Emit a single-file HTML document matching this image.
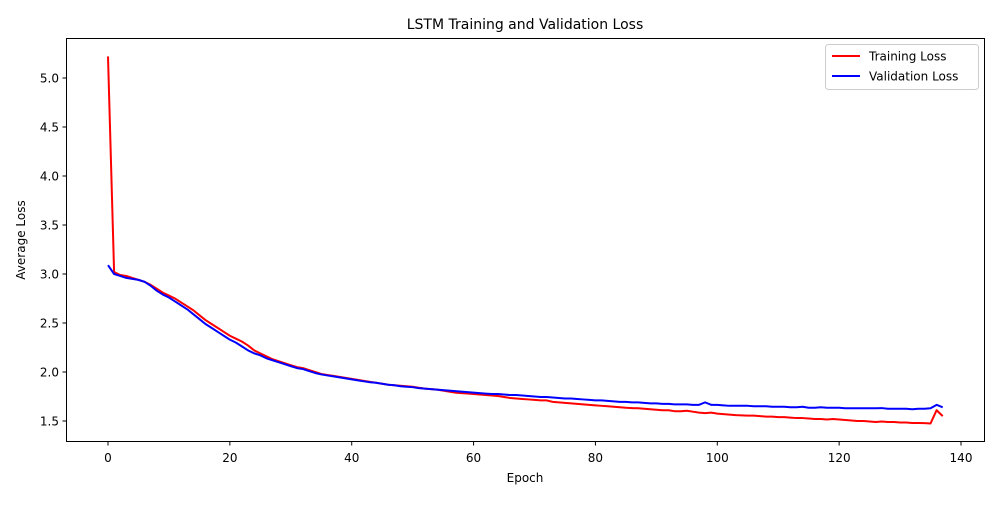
<!DOCTYPE html>
<html><head><meta charset="utf-8"><style>
body{margin:0;background:#fff;font-family:"Liberation Sans","DejaVu Sans",sans-serif}
</style></head><body>
<svg id="chart" width="1000" height="500" xmlns="http://www.w3.org/2000/svg" font-family="DejaVu Sans, Liberation Sans, sans-serif">
<rect width="1000" height="500" fill="#fff"/>
<text x="525" y="29" font-size="14" text-anchor="middle">LSTM Training and Validation Loss</text>
<g id="plot"></g>
<rect x="66.5" y="38.5" width="918" height="403" fill="none" stroke="#000" stroke-width="1"/>
<text x="525" y="482" font-size="12" text-anchor="middle">Epoch</text>
<text transform="translate(25,240) rotate(-90)" font-size="12" text-anchor="middle">Average Loss</text>
<g>
<rect x="825.5" y="44.5" width="153" height="45" rx="3" fill="#fff" stroke="#ccc"/>
<line x1="832" y1="56" x2="860" y2="56" stroke="red" stroke-width="2"/>
<text x="869" y="60.5" font-size="12">Training Loss</text>
<line x1="832" y1="76" x2="860" y2="76" stroke="blue" stroke-width="2"/>
<text x="869" y="80.5" font-size="12">Validation Loss</text>
</g>
</svg>
<script>
const train=[5.22,3.02,2.99,2.98,2.96,2.94,2.92,2.89,2.85,2.81,2.78,2.75,2.71,2.67,2.63,2.58,2.53,2.49,2.45,2.41,2.37,2.34,2.31,2.27,2.22,2.19,2.16,2.13,2.11,2.09,2.07,2.05,2.04,2.02,2.00,1.98,1.97,1.96,1.95,1.94,
1.93,1.92,1.91,1.90,1.89,1.88,1.87,1.865,1.86,1.855,1.85,1.84,1.83,1.825,1.82,1.81,1.80,1.79,1.785,1.78,1.775,1.77,1.765,1.76,1.755,1.745,1.735,1.73,1.725,1.72,1.715,1.71,1.71,1.695,1.69,1.685,1.68,1.675,1.67,1.665,1.66,1.655,1.65,1.645,1.64,1.635,1.632,1.63,1.625,1.62,1.615,1.61,1.61,1.60,1.60,1.605,1.595,1.585,1.58,1.585,1.575,1.57,1.565,1.56,1.558,1.555,1.555,1.55,1.545,1.545,1.54,1.54,1.535,1.53,1.53,1.525,1.52,1.52,1.515,1.52,1.515,1.51,1.505,1.50,1.50,1.495,1.49,1.495,1.49,1.49,1.485,1.485,1.48,1.48,1.478,1.475,1.61,1.55];
const val=[3.09,3.00,2.98,2.96,2.95,2.94,2.92,2.88,2.83,2.79,2.76,2.72,2.68,2.64,2.59,2.54,2.49,2.45,2.41,2.37,2.33,2.30,2.26,2.22,2.19,2.17,2.14,2.12,2.10,2.08,2.06,2.04,2.03,2.01,1.99,1.975,1.965,1.955,1.945,1.935,1.925,1.915,1.905,1.895,1.89,1.88,1.87,1.865,1.855,1.85,1.845,1.835,1.83,1.825,1.82,1.815,1.81,1.805,1.80,1.795,1.79,1.785,1.78,1.775,1.775,1.77,1.765,1.765,1.76,1.755,1.75,1.745,1.745,1.74,1.735,1.73,1.73,1.725,1.72,1.715,1.71,1.71,1.705,1.70,1.695,1.695,1.69,1.69,1.685,1.68,1.68,1.675,1.675,1.67,1.67,1.67,1.665,1.665,1.69,1.665,1.665,1.66,1.655,1.655,1.655,1.655,1.65,1.65,1.65,1.645,1.645,1.645,1.64,1.64,1.645,1.635,1.635,1.64,1.635,1.635,1.635,1.63,1.63,1.63,1.63,1.63,1.63,1.632,1.625,1.625,1.625,1.625,1.62,1.625,1.625,1.63,1.665,1.64];
const xTicks=[0,20,40,60,80,100,120,140];
const yTicks=[1.5,2.0,2.5,3.0,3.5,4.0,4.5,5.0];
const NS="http://www.w3.org/2000/svg";
const xS=v=>108+v*(961-108)/140;
const yS=v=>421-(v-1.5)*98;
const g=document.getElementById('plot');
function mk(t,a){const e=document.createElementNS(NS,t);for(const k in a)e.setAttribute(k,a[k]);g.appendChild(e);return e;}
xTicks.forEach(t=>{
 const l=mk('line',{x1:xS(t),x2:xS(t),y1:441.5,y2:445.5,stroke:'#000'});
 
 
 const tx=mk('text',{x:xS(t),y:462,'font-size':12,'text-anchor':'middle'});tx.textContent=t;
 
 
});
yTicks.forEach(t=>{
 const l=mk('line',{x1:62.5,x2:66.5,y1:yS(t),y2:yS(t),stroke:'#000'});
 
 
 const tx=mk('text',{x:59,y:yS(t)+4.5,'font-size':12,'text-anchor':'end'});tx.textContent=t.toFixed(1);
 
 
});
function line(arr,c,n){
 const p=mk('polyline',{points:arr.map((v,i)=>xS(i)+','+yS(v)).join(' '),fill:'none',stroke:c,'stroke-width':2,'stroke-linejoin':'round'});
 
 
}
line(train,'red','training-loss-line');
line(val,'blue','validation-loss-line');
</script>
</body></html>
